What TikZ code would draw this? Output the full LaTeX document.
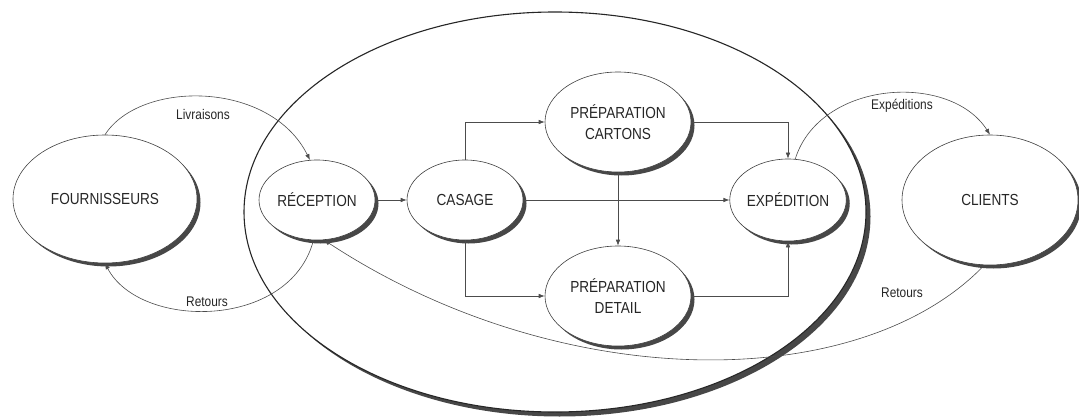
\documentclass[tikz,border=0pt]{standalone}
\usepackage{fontspec}
\setmainfont{Liberation Sans}[FakeStretch=0.85]
\usetikzlibrary{shapes.geometric,shadows,arrows.meta}
\tikzset{
  proc/.style={ellipse, draw=black!75, line width=0.6pt, fill=white, inner sep=0pt,
    align=center, text=black!85, font=\fontsize{16}{21.5}\selectfont,
    drop shadow={shadow xshift=3.5pt, shadow yshift=-3.5pt, fill=black!72, opacity=1}},
  zone/.style={ellipse, draw=black!85, line width=1.1pt, fill=white, inner sep=0pt,
    drop shadow={shadow xshift=4.5pt, shadow yshift=-4.5pt, fill=black!72, opacity=1}},
  conn/.style={draw=black!70, line width=0.6pt, -{Latex[length=6pt,width=4.5pt]}},
  flow/.style={draw=black!70, line width=0.6pt, -{Latex[length=6pt,width=4.5pt]}},
  lbl/.style={text=black!85, font=\fontsize{14}{18}\selectfont, inner sep=1pt}
}
\begin{document}
\begin{tikzpicture}[x=1pt,y=-1pt]
\useasboundingbox (0,0) rectangle (1079,417);
\node[zone, minimum width=622pt, minimum height=400pt] (zone) at (555,212) {};
\node[proc, minimum width=184pt, minimum height=128pt] (four) at (105,199) {FOURNISSEURS};
\node[proc, minimum width=116pt, minimum height=80pt] (rec) at (317,200) {RÉCEPTION};
\node[proc, minimum width=116pt, minimum height=80pt] (cas) at (465,200) {CASAGE};
\node[proc, minimum width=146pt, minimum height=100pt] (car) at (618,122) {PRÉPARATION\\CARTONS};
\node[proc, minimum width=146pt, minimum height=100pt] (det) at (618,296) {PRÉPARATION\\DETAIL};
\node[proc, minimum width=116pt, minimum height=82pt] (exp) at (788,200) {EXPÉDITION};
\node[proc, minimum width=176pt, minimum height=130pt] (cli) at (990,200) {CLIENTS};
% internal flows
\draw[flow] (rec.east) -- (cas.west);
\draw[flow] (cas.north) |- (car.west);
\draw[flow] (cas.south) |- (det.west);
\draw[flow] (cas.east) -- (exp.west);
\draw[flow] (car.south) -- (det.north);
\draw[flow] (car.east) -| (exp.north);
\draw[flow] (det.east) -| (exp.south);
% external flows
\draw[conn] (four.north) .. controls (140,80) and (270,80) .. (rec.100);
\draw[conn] (rec.-95) .. controls (290,330) and (140,330) .. (four.south);
\draw[conn] (exp.80) .. controls (820,80) and (950,72) .. (cli.north);
\draw[conn] (cli.-95) .. controls (860,395) and (560,395) .. (rec.-80);
% labels
\node[lbl] (l1) at (203,114) {Livraisons};
\node[lbl] (l2) at (207,302) {Retours};
\node[lbl] (l3) at (902,106) {Expéditions};
\node[lbl] (l4) at (902,293) {Retours};
\end{tikzpicture}
\end{document}
